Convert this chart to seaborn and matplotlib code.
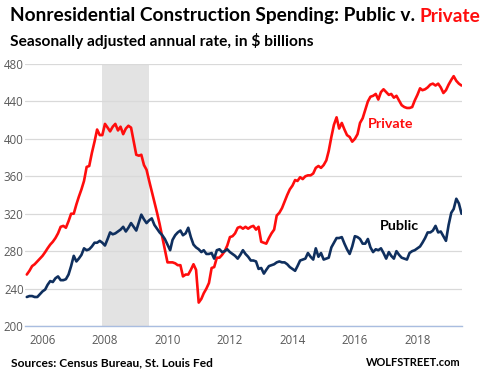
import numpy as np
import pandas as pd
import matplotlib
matplotlib.use("Agg")
import matplotlib.pyplot as plt
import matplotlib.dates as mdates
import seaborn as sns

# ---- data (monthly, $ billions SAAR) ----
start_month = "2005-07-01"
private = [255, 259, 264, 266, 269, 272, 275, 279, 283, 287, 290, 294,
           299, 306, 307, 305, 312, 320, 320, 330, 338, 346, 355, 370,
           371, 385, 397, 410, 404, 404, 416, 412, 408, 413, 416, 409,
           413, 405, 411, 414, 412, 398, 383, 382, 383, 372, 367, 355,
           344, 333, 321, 309, 295, 281, 268, 268, 268, 267, 265, 265,
           253, 255, 255, 260, 266, 260, 225, 229, 235, 240, 246, 262,
           263, 273, 273, 276, 280, 286, 295, 296, 299, 305, 306, 304,
           306, 304, 306, 307, 303, 306, 290, 289, 288, 294, 299, 303,
           318, 321, 326, 333, 340, 346, 350, 356, 355, 359, 357, 360,
           361, 361, 363, 369, 371, 369, 372, 377, 387, 402, 415, 423,
           411, 417, 410, 404, 402, 397, 400, 405, 417, 422, 431, 440,
           445, 446, 448, 442, 450, 453, 450, 447, 448, 444, 446, 441,
           436, 434, 433, 433, 434, 441, 447, 454, 452, 453, 455, 458,
           459, 457, 459, 455, 449, 452, 458, 463, 467, 462, 459, 457]
public = [231, 232, 232, 231, 231, 234, 237, 239, 244, 248, 247, 251,
          253, 249, 249, 250, 255, 264, 275, 269, 272, 276, 283, 281,
          282, 285, 289, 289, 291, 289, 286, 293, 300, 298, 299, 301,
          303, 306, 301, 305, 310, 306, 302, 311, 319, 314, 310, 313,
          315, 308, 304, 300, 297, 293, 287, 281, 292, 297, 300, 302,
          297, 299, 305, 295, 287, 284, 282, 279, 281, 277, 277, 278,
          272, 281, 282, 279, 280, 282, 279, 277, 275, 272, 276, 281,
          277, 274, 270, 270, 269, 261, 262, 256, 260, 264, 265, 266,
          268, 269, 268, 268, 266, 263, 261, 259, 264, 270, 271, 272,
          278, 274, 271, 283, 274, 278, 271, 272, 273, 284, 289, 294,
          294, 295, 288, 282, 277, 285, 296, 295, 293, 288, 288, 293,
          284, 279, 282, 281, 283, 278, 272, 279, 275, 272, 280, 276,
          273, 272, 271, 278, 280, 281, 283, 285, 289, 294, 300, 300,
          302, 307, 300, 301, 296, 291, 308, 321, 325, 336, 331, 320]
recession = ["2007-12-01", "2009-06-01"]
year_ticks = [2006, 2008, 2010, 2012, 2014, 2016, 2018]
y_ticks = [200, 240, 280, 320, 360, 400, 440, 480]

dates = pd.date_range(start_month, periods=len(private), freq="MS")
df = pd.DataFrame({"date": np.concatenate([dates, dates]),
                   "value": private + public,
                   "series": ["Private"] * len(private) + ["Public"] * len(public)})

RED = "#ff0d0d"
NAVY = "#0f2f5e"

sns.set_style("white")
plt.rcParams["font.family"] = ["Lato", "DejaVu Sans"]

W, H = 492, 374
fig = plt.figure(figsize=(W / 100, H / 100), dpi=100)
ax = fig.add_axes([25 / W, 1 - 326 / H, (461.7 - 25) / W, (326 - 64) / H])

ax.axvspan(pd.Timestamp(recession[0]), pd.Timestamp(recession[1]),
           color="#e3e3e3", lw=0, zorder=0)
sns.lineplot(data=df, x="date", y="value", hue="series",
             palette={"Private": RED, "Public": NAVY}, linewidth=1.9,
             legend=False, ax=ax, zorder=3)

ax.set_ylim(200, 480)
ax.set_xlim(pd.Timestamp("2005-06-10"), dates[-1] + pd.Timedelta(days=2))
ax.set_yticks(y_ticks)
ax.set_xticks([pd.Timestamp(f"{y}-01-01") for y in year_ticks])
ax.xaxis.set_major_formatter(mdates.DateFormatter("%Y"))
ax.set_xlabel("")
ax.set_ylabel("")
ax.grid(axis="y", color="#d9d9d9", linewidth=0.9, zorder=1)
ax.grid(axis="x", visible=False)
for s in ["top", "right", "left"]:
    ax.spines[s].set_visible(False)
ax.spines["bottom"].set_color("#a9bde0")
ax.spines["bottom"].set_linewidth(1.0)
ax.tick_params(axis="x", colors="#a9bde0", length=4, width=1.0,
               labelcolor="#595959", labelsize=9, pad=2)
ax.tick_params(axis="y", length=0, labelcolor="#595959", labelsize=9, pad=1)
for lab in ax.get_xticklabels() + ax.get_yticklabels():
    lab.set_fontfamily(["Open Sans", "DejaVu Sans"])
    lab.set_fontsize(8.3)
ax.set_axisbelow(True)

# line labels
ax.text(pd.Timestamp("2016-06-01"), 416, "Private", color=RED, fontsize=10.3,
        fontweight="bold", ha="left", va="center", zorder=4)
ax.text(pd.Timestamp("2016-10-15"), 307, "Public", color="black", fontsize=10.3,
        fontweight="bold", ha="left", va="center", zorder=4)

renderer = fig.canvas.get_renderer()


def fit(t, target_px):
    w = t.get_window_extent(renderer=renderer).width
    t.set_fontsize(t.get_fontsize() * target_px / w)


# title with coloured last word (shared baseline)
base_y = 1 - 21.5 / H
t1 = fig.text(10 / W, base_y, "Nonresidential Construction Spending: Public v. ",
              fontsize=14, fontweight="bold", color="black", ha="left", va="baseline")
t2 = fig.text(0, base_y, "Private", fontsize=14, fontweight="bold",
              color=RED, ha="left", va="baseline")
w1 = t1.get_window_extent(renderer=renderer).width
w2 = t2.get_window_extent(renderer=renderer).width
scale = 475 / (w1 + w2)
t1.set_fontsize(14 * scale)
t2.set_fontsize(14 * scale)
bb = t1.get_window_extent(renderer=renderer)
t2.set_x(bb.x1 / W)

sub = fig.text(10 / W, 1 - 41 / H, "Seasonally adjusted annual rate, in $ billions",
               fontsize=10, fontweight="bold", color="black", ha="left", va="center")
fit(sub, 303)
src = fig.text(11 / W, 1 - 363 / H, "Sources: Census Bureau, St. Louis Fed",
               fontsize=9, fontweight="bold", color="black", ha="left", va="center")
fit(src, 202)
wolf = fig.text(461 / W, 1 - 363 / H, "WOLFSTREET.com",
                fontsize=9, fontweight="bold", color="black", ha="right", va="center")
fit(wolf, 95)

fig.savefig("out.png", dpi=100, facecolor="white")
